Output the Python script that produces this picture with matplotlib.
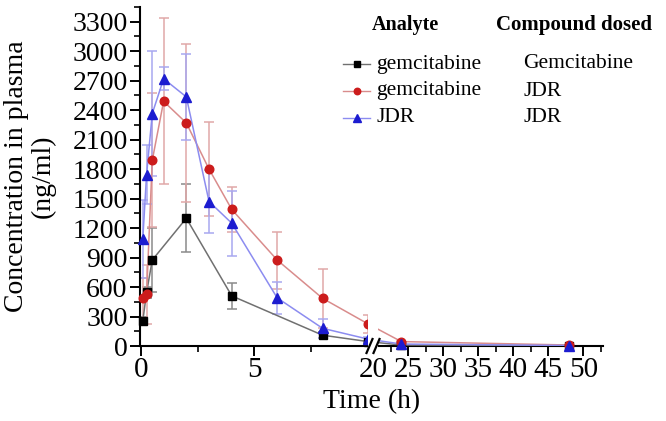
import numpy as np
import matplotlib
matplotlib.use("Agg")
import matplotlib.pyplot as plt
from matplotlib.lines import Line2D
from matplotlib.patches import Rectangle
from matplotlib.ticker import MultipleLocator, FixedLocator
import matplotlib.transforms as mtransforms

plt.rcParams['font.family'] = ['Liberation Serif', 'DejaVu Serif']

# ---- data ----
t_gem = [0.083, 0.25, 0.5, 2, 4, 8, 10, 24, 48]
gem_mean = [255, 545, 875, 1300, 510, 110, 45, 10, 5]
gem_sd = [40, 60, 330, 345, 130, 30, 10, 5, 2]

t_jdr = [0.083, 0.25, 0.5, 1, 2, 3, 4, 6, 8, 10, 24, 48]
gem_from_jdr_mean = [490, 525, 1890, 2490, 2270, 1800, 1390, 875, 485, 225, 45, 10]
gem_from_jdr_sd = [200, 300, 680, 845, 800, 480, 230, 290, 300, 90, 10, 5]
jdr_mean = [1090, 1745, 2365, 2720, 2535, 1470, 1250, 490, 180, 70, 20, 5]
jdr_sd = [400, 300, 635, 115, 440, 320, 330, 160, 95, 20, 5, 2]

analyte = ["gemcitabine", "gemcitabine", "JDR"]
dosed = ["Gemcitabine", "JDR", "JDR"]

W, H = 666, 421
fig = plt.figure(figsize=(W / 100, H / 100), dpi=100)

def fpx(x, y):
    return x / W, 1 - y / H

# broken x-axis via piecewise scale (0-10 wide, 10-20 squeezed, 20+ narrower)
def fwd(x):
    x = np.asarray(x, float)
    return np.where(x <= 10, x * 22.7,
                    np.where(x <= 20, 227 + (x - 10) * 0.53, 232.3 + (x - 20) * 7.0))

def inv(y):
    y = np.asarray(y, float)
    return np.where(y <= 227, y / 22.7,
                    np.where(y <= 232.3, 10 + (y - 227) / 0.53, 20 + (y - 232.3) / 7.0))

l, b = fpx(140, 346)
r, t = fpx(603, 7)
ax = fig.add_axes([l, b, r - l, t - b])
ax.set_xscale('function', functions=(fwd, inv))
ax.set_xlim(-0.04, 52.8)
ax.set_ylim(0, 3450)

series = [
    (t_gem, gem_mean, gem_sd, 's', '#000000', '#707070', '#8a8a8a', 5.2),
    (t_jdr, gem_from_jdr_mean, gem_from_jdr_sd, 'o', '#cc1c1c', '#d98c8c', '#e0a8a8', 6.2),
    (t_jdr, jdr_mean, jdr_sd, '^', '#1c1cd0', '#8c8cf0', '#a8a8f0', 6.8),
]
for tt, m, s, mk, mc, lc, ec, ms in series:
    ax.errorbar(tt, m, yerr=s, fmt='none', ecolor=ec, elinewidth=1.1,
                capsize=3.5, capthick=1.1, zorder=2)
    ax.plot(tt, m, '-', color=lc, lw=1.1, zorder=3)
    ax.plot(tt, m, mk, color=mc, ms=ms, mec=mc, zorder=4, clip_on=False)

for sp in ['top', 'right']:
    ax.spines[sp].set_visible(False)
for sp in ['left', 'bottom']:
    ax.spines[sp].set_linewidth(1.5)

ax.yaxis.set_major_locator(MultipleLocator(300))
ax.yaxis.set_minor_locator(MultipleLocator(150))
xt = [0, 5, 20, 25, 30, 35, 40, 45, 50]
ax.xaxis.set_major_locator(FixedLocator(xt))
ax.xaxis.set_minor_locator(FixedLocator([2.5, 7.5, 22.5, 27.5, 32.5, 37.5, 42.5, 47.5, 52.5]))
ax.set_xticklabels([str(v) for v in xt])
ax.tick_params(which='major', direction='out', length=7, width=1.4, labelsize=20, pad=2)
ax.tick_params(which='minor', direction='out', length=4, width=1.2)
ax.tick_params(axis='x', labelsize=21, pad=1)
ax.xaxis.get_major_ticks()[2].tick1line.set_visible(False)

# break: white band + slashes
trans = mtransforms.blended_transform_factory(ax.transData, ax.transAxes)
ax.add_patch(Rectangle((10.9, -0.012), 20.7 - 10.9, 1.02, transform=trans,
                       facecolor='white', edgecolor='none', zorder=6, clip_on=False))
for x0 in (366.5, 373.5):
    x1, y1 = fpx(x0, 353)
    x2, y2 = fpx(x0 + 6, 339)
    fig.add_artist(Line2D([x1, x2], [y1, y2], color='black', lw=1.6, zorder=10))

ax.set_xlabel('Time (h)', fontsize=20, labelpad=4)
fig.text(*fpx(30, 176), 'Concentration in plasma\n(ng/ml)', rotation=90,
         fontsize=20, ha='center', va='center', linespacing=1.1)

# legend (manual table)
fig.text(*fpx(405, 25), 'Analyte', fontsize=14.5, fontweight='bold', ha='center', va='center')
fig.text(*fpx(574, 25), 'Compound dosed', fontsize=15, fontweight='bold', ha='center', va='center')
rows_y = [64, 91, 118]
for (tt, m, s, mk, mc, lc, ec, ms), a, d, yy in zip(series, analyte, dosed, rows_y):
    xa, ya = fpx(343, yy)
    xb, _ = fpx(370, yy)
    xm, _ = fpx(356.5, yy)
    fig.add_artist(Line2D([xa, xb], [ya, ya], color=lc, lw=1.0))
    fig.add_artist(Line2D([xm], [ya], marker=mk, color=mc, ms=ms * 0.75, ls='none'))
    fig.text(*fpx(376, yy), a, fontsize=15.5, ha='left', va='center')
    fig.text(*fpx(523, yy), d, fontsize=15.5, ha='left', va='center')

fig.savefig('out.png', dpi=100)
